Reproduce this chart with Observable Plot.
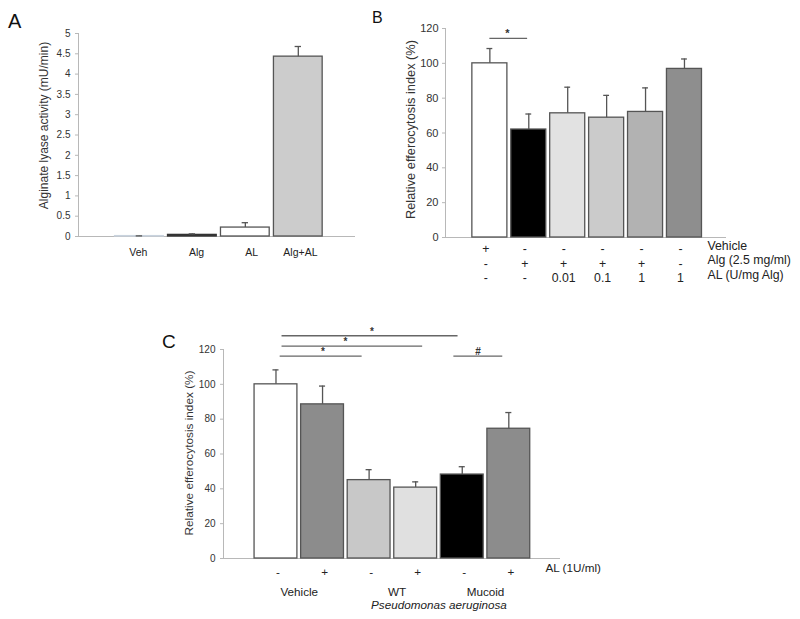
<!DOCTYPE html>
<html>
<head>
<meta charset="utf-8">
<script src="https://cdn.jsdelivr.net/npm/d3@7"></script>
<script src="https://cdn.jsdelivr.net/npm/@observablehq/plot@0.6"></script>
<style>
  html, body { margin: 0; padding: 0; background: #fff; }
  #root { position: relative; width: 800px; height: 619px; overflow: hidden; font-family: "Liberation Sans", Arial, sans-serif; }
  #root > svg { position: absolute; }
</style>
</head>
<body>
<div id="root">
  <svg id="letters" width="800" height="619" style="left:0;top:0;z-index:5;pointer-events:none;font-family:'Liberation Sans',Arial,sans-serif">
    <text x="8" y="28" font-size="20" fill="#111">A</text>
    <text x="372" y="23" font-size="16" fill="#111">B</text>
    <text x="162" y="348" font-size="19" fill="#111">C</text>
  </svg>
</div>
<script>
// ---------- Panel A ----------
const aCategories = ["Veh", "Alg", "AL", "Alg+AL"];
const aLabelPos = [-0.02, 1.08, 2.12, 3.04];
const aValues = [0.01, 0.04, 0.22, 4.43];
const aErrors = [0.005, 0.025, 0.12, 0.25];
const aFills = ["#ffffff", "#3a3a3a", "#ffffff", "#cccccc"];
const aStrokes = ["#c9d3de", "#333333", "#555555", "#555555"];
const aYTicks = [0, 0.5, 1, 1.5, 2, 2.5, 3, 3.5, 4, 4.5, 5];
const aYLabel = "Alginate lyase activity (mU/min)";

// ---------- Panel B ----------
const bValues = [100, 62, 71.3, 68.8, 72.1, 96.8];
const bErrors = [8.5, 8.9, 15, 12.8, 13.8, 5.7];
const bFills = ["#ffffff", "#000000", "#e2e2e2", "#cbcbcb", "#b2b2b2", "#8e8e8e"];
const bYTicks = [0, 20, 40, 60, 80, 100, 120];
const bYLabel = "Relative efferocytosis index (%)";
const bRowVehicle = ["+", "-", "-", "-", "-", "-"];
const bRowAlg = ["-", "+", "+", "+", "+", "-"];
const bRowAL = ["-", "-", "0.01", "0.1", "1", "1"];
const bRowLabels = ["Vehicle", "Alg (2.5 mg/ml)", "AL (U/mg Alg)"];
const bSig = [{from: 0, to: 0.97, y: 114.3, label: "*", lx: 0.45}];

// ---------- Panel C ----------
const cValues = [100, 88.5, 45, 40.7, 48.2, 74.5];
const cErrors = [8.3, 10.5, 6, 3.3, 4.5, 9.3];
const cFills = ["#ffffff", "#8c8c8c", "#c8c8c8", "#e0e0e0", "#000000", "#8c8c8c"];
const cYTicks = [0, 20, 40, 60, 80, 100, 120];
const cYLabel = "Relative efferocytosis index (%)";
const cRowAL = ["-", "+", "-", "+", "-", "+"];
const cRowLabel = "AL (1U/ml)";
const cGroups = [{label: "Vehicle", pos: 0.5}, {label: "WT", pos: 2.6}, {label: "Mucoid", pos: 4.5}];
const cSpecies = [{label: "Pseudomonas aeruginosa", pos: 3.5}];
const cSig = [
  {from: 0.09, to: 1.85, y: 116.2, label: "*", lx: 1.01},
  {from: 0.13, to: 3.15, y: 121.9, label: "*", lx: 1.49},
  {from: 0.13, to: 3.91, y: 127.9, label: "*", lx: 2.06},
  {from: 3.82, to: 4.87, y: 116.2, label: "#", lx: 4.34}
];

const FONT = "'Liberation Sans', Arial, sans-serif";
const AXIS = "#b8b8b8";
const EDGE = "#555555";

function makePanel(cfg) {
  const data = cfg.values.map((v, i) => ({
    i, v, e: cfg.errors[i], fill: cfg.fills[i],
    stroke: cfg.strokes ? cfg.strokes[i] : EDGE
  }));
  const marks = [
    Plot.ruleY([0], {stroke: AXIS, strokeWidth: 1.2}),
    Plot.ruleX([cfg.xDomain[0]], {stroke: AXIS, strokeWidth: 1}),
    Plot.axisY({
      ticks: cfg.yTicks, tickFormat: d => String(d), tickSize: 3,
      tickPadding: cfg.tickPadding, stroke: AXIS, fill: "#333",
      fontSize: cfg.tickFont, label: null
    }),
    Plot.rectY(data, {
      x1: d => d.i - cfg.half, x2: d => d.i + cfg.half, y1: 0, y2: "v",
      fill: "fill", stroke: "stroke", strokeWidth: 1.3
    }),
    Plot.ruleX(data, {x: "i", y1: "v", y2: d => d.v + d.e, stroke: EDGE, strokeWidth: 1.3}),
    Plot.ruleY(data, {y: d => d.v + d.e, x1: d => d.i - cfg.cap, x2: d => d.i + cfg.cap, stroke: EDGE, strokeWidth: 1.3}),
    Plot.text([cfg.yLabel], {
      frameAnchor: "left", textAnchor: "middle", rotate: -90, dx: cfg.yLabelDx, dy: cfg.yLabelDy,
      fontSize: cfg.yLabelFont, fill: "#333"
    }),
    ...(cfg.extra || [])
  ];
  const svg = Plot.plot({
    width: cfg.width, height: cfg.height,
    marginLeft: cfg.marginLeft, marginRight: cfg.marginRight,
    marginTop: cfg.marginTop, marginBottom: cfg.marginBottom,
    x: {type: "linear", domain: cfg.xDomain, axis: null},
    y: {domain: cfg.yDomain, axis: null},
    color: {type: "identity"},
    style: {fontFamily: FONT, fontSize: "10px", background: "transparent", overflow: "visible"},
    marks
  });
  svg.style.left = cfg.left + "px";
  svg.style.top = cfg.top + "px";
  return svg;
}

function sigMarks(sig, fontSize, dy) {
  return [
    Plot.ruleY(sig, {y: "y", x1: "from", x2: "to", stroke: "#666", strokeWidth: 1.3}),
    Plot.text(sig, {x: "lx", y: "y", text: "label", dy: dy, fontSize: fontSize, fill: "#333", fontWeight: "bold"})
  ];
}

const root = document.getElementById("root");

// Panel A
root.appendChild(makePanel({
  left: 0, top: 0, width: 360, height: 265,
  marginLeft: 78, marginRight: 5, marginTop: 33, marginBottom: 29,
  xDomain: [-1.15, 4.08], yDomain: [0, 5],
  values: aValues, errors: aErrors, fills: aFills, strokes: aStrokes,
  yTicks: aYTicks, tickFont: 10, tickPadding: 5,
  half: 0.46, cap: 0.06,
  yLabel: aYLabel, yLabelDx: -34, yLabelDy: -9.5, yLabelFont: 12,
  extra: [
    Plot.text(aCategories, {x: (d, i) => aLabelPos[i], y: 0, dy: 16, fontSize: 10.5, fill: "#222"})
  ]
}));

// Panel B
const bRowMarks = [bRowVehicle, bRowAlg, bRowAL].map((row, r) =>
  Plot.text(row, {x: (d, i) => i, y: 0, dx: -4, dy: 12 + r * 14.5, fontSize: 12.3, fill: "#222"})
);
const bRowLabelMarks = bRowLabels.map((lab, r) =>
  Plot.text([lab], {frameAnchor: "bottom-right", dx: -19, dy: 12 + r * 14.5, textAnchor: "start", fontSize: 12.3, fill: "#222"})
);
root.appendChild(makePanel({
  left: 360, top: 0, width: 440, height: 290,
  marginLeft: 85, marginRight: 74, marginTop: 28, marginBottom: 53,
  xDomain: [-1.14, 6.08], yDomain: [0, 120],
  values: bValues, errors: bErrors, fills: bFills,
  yTicks: bYTicks, tickFont: 11, tickPadding: 4,
  half: 0.45, cap: 0.075,
  yLabel: bYLabel, yLabelDx: -35, yLabelDy: -3.5, yLabelFont: 12.8,
  extra: [...bRowMarks, ...bRowLabelMarks, ...sigMarks(bSig, 11, -5)]
}));

// Panel C
root.appendChild(makePanel({
  left: 170, top: 300, width: 450, height: 319,
  marginLeft: 53, marginRight: 60, marginTop: 49, marginBottom: 61,
  xDomain: [-1.127, 6.11], yDomain: [0, 120],
  values: cValues, errors: cErrors, fills: cFills,
  yTicks: cYTicks, tickFont: 10, tickPadding: 5,
  half: 0.46, cap: 0.065,
  yLabel: cYLabel, yLabelDx: -34, yLabelDy: -1, yLabelFont: 11.8,
  extra: [
    Plot.text(cRowAL, {x: (d, i) => i, y: 0, dx: 2, dy: 13.5, fontSize: 11.7, fill: "#222"}),
    Plot.text([cRowLabel], {frameAnchor: "bottom-right", dx: -15, dy: 13.5, textAnchor: "start", fontSize: 11.7, fill: "#222"}),
    Plot.text(cGroups, {x: "pos", y: 0, text: "label", dy: 33.5, fontSize: 11.7, fill: "#222"}),
    Plot.text(cSpecies, {x: "pos", y: 0, text: "label", dy: 47, fontSize: 11.7, fontStyle: "italic", fill: "#222"}),
    ...sigMarks(cSig, 10, -4)
  ]
}));
</script>
</body>
</html>
